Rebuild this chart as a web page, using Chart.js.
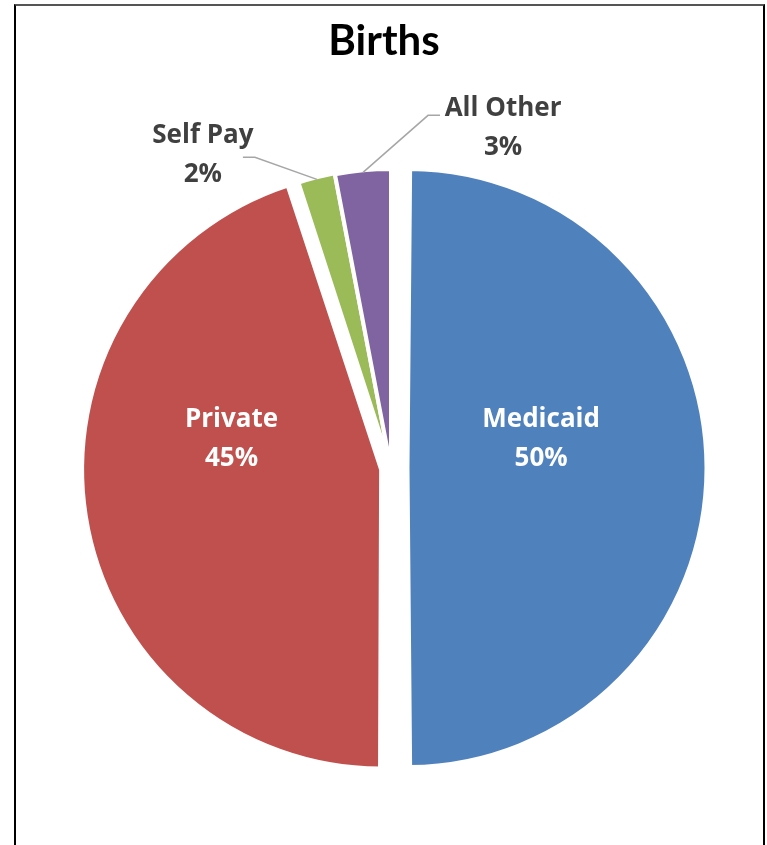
<!DOCTYPE html>
<html>
<head>
<meta charset="utf-8">
<title>Births</title>
<script src="https://cdn.jsdelivr.net/npm/chart.js@4.4.1/dist/chart.umd.min.js"></script>
<style>
    html, body { margin: 0; padding: 0; background: #fff; overflow: hidden; }
    .frame {
        position: absolute; left: 14px; top: 4px; width: 747px; height: 900px;
        border-top: 2px solid #555; border-left: 2px solid #000; border-right: 2px solid #000;
    }
    #birthsChart { position: absolute; left: 0; top: 0; }
</style>
</head>
<body>
<div class="frame"></div>
<canvas id="birthsChart" width="767" height="845"></canvas>
<script>
// Births by payer (share of total, %)
const categories = ['Medicaid', 'Private', 'Self Pay', 'All Other'];
const shares = [50, 45, 2, 3];
const percentLabels = ['50%', '45%', '2%', '3%'];

const sliceColors = ['#4F81BD', '#C0504D', '#9BBB59', '#8064A2'];
const sliceOffsets = [66, 40, 4, 0]; // chart.js moves a slice by offset/4

// where each label sits relative to its slice
const labelPlacement = [
    { inside: true, r: 0.45, dy: -31 },
    { inside: true, r: 0.51, dy: -56 },
    { inside: false, elbow: [-62, -22], end: [-74, -22], text: [-114, -26] },
    { inside: false, elbow: [65, -57], end: [77, -57], text: [140, -46] }
];

function radiusFix(arc) {
    const off = (arc.options.offset || 0) / 4;
    return off * (1 - Math.sin(Math.min(Math.PI, arc.circumference)));
}

const sliceLabels = {
    id: 'sliceLabels',
    afterDatasetUpdate(chart) {
        // keep exploded slices the same size as the rest
        chart.getDatasetMeta(0).data.forEach(arc => {
            arc.outerRadius -= radiusFix(arc);
        });
    },
    afterDatasetsDraw(chart) {
        const ctx = chart.ctx;
        ctx.save();
        ctx.textAlign = 'center';
        ctx.textBaseline = 'alphabetic';

        // title
        ctx.fillStyle = '#000';
        ctx.font = 'bold 42px Lato';
        ctx.fillText('Births', 384, 55);

        ctx.font = 'bold 26px "Open Sans"';
        chart.getDatasetMeta(0).data.forEach((arc, i) => {
            const p = labelPlacement[i];
            const mid = (arc.startAngle + arc.endAngle) / 2;
            const off = (arc.options.offset || 0) / 4;
            const cx = arc.x + Math.cos(mid) * off;
            const cy = arc.y + Math.sin(mid) * off;
            const r = arc.outerRadius + radiusFix(arc) - arc.options.borderWidth / 2;
            let lx, ly;
            if (p.inside) {
                lx = cx + Math.cos(mid) * r * p.r;
                ly = cy + Math.sin(mid) * r * p.r + p.dy;
                ctx.fillStyle = '#fff';
            } else {
                const ax = cx + Math.cos(mid) * r;
                const ay = cy + Math.sin(mid) * r;
                ctx.strokeStyle = '#A6A6A6';
                ctx.lineWidth = 1.5;
                ctx.beginPath();
                ctx.moveTo(ax, ay);
                ctx.lineTo(ax + p.elbow[0], ay + p.elbow[1]);
                ctx.lineTo(ax + p.end[0], ay + p.end[1]);
                ctx.stroke();
                lx = ax + p.text[0];
                ly = ay + p.text[1];
                ctx.fillStyle = '#404040';
            }
            ctx.fillText(categories[i], lx, ly - 10);
            ctx.fillText(percentLabels[i], lx, ly + 29);
        });
        ctx.restore();
    }
};

new Chart(document.getElementById('birthsChart'), {
    type: 'pie',
    data: {
        labels: categories,
        datasets: [{
            data: shares,
            backgroundColor: sliceColors,
            borderColor: '#fff',
            borderWidth: 4,
            offset: sliceOffsets,
            radius: 299
        }]
    },
    options: {
        responsive: false,
        animation: false,
        layout: { padding: { top: 91, bottom: 0, left: 15, right: 0 } },
        plugins: {
            legend: { display: false },
            tooltip: { enabled: false }
        }
    },
    plugins: [sliceLabels]
});
</script>
</body>
</html>
